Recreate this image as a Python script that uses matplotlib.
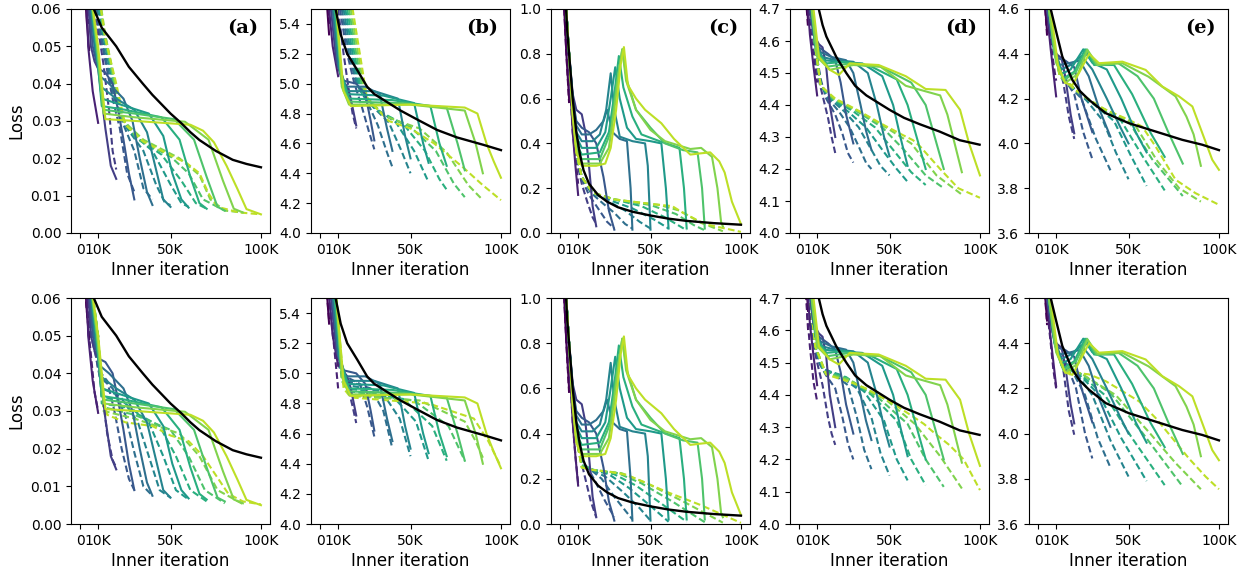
import numpy as np
import matplotlib
matplotlib.use("Agg")
import matplotlib.pyplot as plt

# ---------------- data (x in thousands of inner iterations) ----------------
T_K = [5, 10, 20, 30, 40, 50, 60, 70, 80, 90, 100]
X_TICKS = [0, 10, 50, 100]
X_TICKLABELS = ["0", "10K", "50K", "100K"]
PANEL_LABELS = ["(a)", "(b)", "(c)", "(d)", "(e)"]
Y_LIMS = [(0.0, 0.06), (4.0, 5.5), (0.0, 1.0), (4.0, 4.7), (3.6, 4.6)]
Y_TICKS = [[0.0, 0.01, 0.02, 0.03, 0.04, 0.05, 0.06],
           [4.0, 4.2, 4.4, 4.6, 4.8, 5.0, 5.2, 5.4],
           [0.0, 0.2, 0.4, 0.6, 0.8, 1.0],
           [4.0, 4.1, 4.2, 4.3, 4.4, 4.5, 4.6, 4.7],
           [3.6, 3.8, 4.0, 4.2, 4.4, 4.6]]
Y_FMT = ["{:.2f}", "{:.1f}", "{:.1f}", "{:.1f}", "{:.1f}"]

# ---- column (a) ----
A_BLACK = [(5.5, 0.065), (7.6, 0.06), (12, 0.055), (16, 0.0525), (20, 0.05), (27, 0.0445), (34.7, 0.04),
           (40, 0.037), (45, 0.0345), (50, 0.032), (56, 0.0294), (61, 0.027), (66, 0.0249), (75, 0.022),
           (84.4, 0.0196), (92, 0.0185), (100, 0.0176)]
A_SOLID = [
    [(2, 0.075), (3.5, 0.058), (5, 0.049)],
    [(3, 0.075), (4.5, 0.05), (7, 0.038), (10, 0.0295)],
    [(3, 0.075), (6, 0.05), (8, 0.046), (10, 0.044), (12, 0.036), (14, 0.028), (17, 0.018), (20, 0.0145)],
    [(3, 0.075), (7, 0.05), (10, 0.044), (14, 0.043), (18, 0.04), (21, 0.033), (24, 0.025), (27, 0.016), (30, 0.009)],
    [(3, 0.075), (8, 0.05), (11, 0.042), (16, 0.04), (24, 0.036), (29, 0.03), (33, 0.02), (37, 0.011), (40, 0.0075)],
    [(3, 0.075), (8.5, 0.05), (12, 0.039), (20, 0.036), (30, 0.033), (37, 0.027), (42, 0.017), (46, 0.009), (50, 0.007)],
    [(3, 0.075), (9, 0.05), (12, 0.036), (25, 0.034), (38, 0.032), (46, 0.026), (51, 0.016), (56, 0.009), (60, 0.0068)],
    [(3, 0.075), (9, 0.05), (12, 0.034), (25, 0.033), (45, 0.031), (55, 0.025), (61, 0.015), (66, 0.008), (70, 0.0065)],
    [(3, 0.075), (9.5, 0.05), (13, 0.033), (30, 0.032), (52, 0.0305), (63, 0.025), (70, 0.015), (76, 0.007), (80, 0.006)],
    [(3, 0.075), (9.5, 0.05), (13, 0.032), (30, 0.031), (58, 0.0298), (71, 0.025), (79, 0.014), (85, 0.0065), (90, 0.0055)],
    [(3, 0.075), (10, 0.05), (14, 0.0305), (31, 0.030), (61, 0.029), (68, 0.0274), (74, 0.0243), (81, 0.018),
     (87, 0.0118), (92, 0.0064), (100, 0.005)],
]
A_DASH_TOP = [
    [(3, 0.07), (4.5, 0.06), (5, 0.056)],
    [(4, 0.075), (7, 0.06), (10, 0.052)],
    [(5, 0.075), (9, 0.058), (13, 0.045), (16, 0.033), (18, 0.022), (20, 0.017)],
    [(5, 0.075), (10, 0.056), (14, 0.046), (18, 0.036), (22, 0.028), (26, 0.016), (30, 0.011)],
    [(5, 0.075), (11, 0.055), (15, 0.045), (19, 0.036), (24, 0.029), (30, 0.022), (35, 0.012), (40, 0.009)],
    [(6, 0.075), (12, 0.055), (16, 0.045), (20, 0.035), (26, 0.028), (35, 0.022), (42, 0.013), (47, 0.008), (50, 0.0075)],
    [(6, 0.075), (12, 0.055), (17, 0.044), (21, 0.033), (28, 0.027), (40, 0.022), (50, 0.013), (56, 0.008), (60, 0.007)],
    [(6, 0.075), (13, 0.055), (18, 0.043), (22, 0.032), (30, 0.026), (45, 0.021), (56, 0.014), (64, 0.008), (70, 0.0065)],
    [(7, 0.075), (13, 0.054), (18, 0.042), (23, 0.031), (32, 0.025), (50, 0.0205), (60, 0.016), (68, 0.009), (80, 0.006)],
    [(7, 0.075), (14, 0.053), (19, 0.041), (24, 0.030), (35, 0.025), (55, 0.020), (66, 0.0155), (72, 0.009),
     (80, 0.006), (90, 0.0055)],
    [(7, 0.075), (14, 0.052), (20, 0.04), (25, 0.029), (35, 0.0245), (48, 0.0213), (59, 0.0187), (66, 0.016),
     (71, 0.0106), (76, 0.007), (88, 0.0055), (100, 0.005)],
]
A_DASH_BOT = [
    [(2, 0.075), (3.5, 0.058), (5, 0.05)],
    [(3, 0.075), (5, 0.05), (8, 0.035), (10, 0.03)],
    [(3, 0.075), (6, 0.05), (9, 0.044), (12, 0.036), (15, 0.024), (18, 0.017), (20, 0.015)],
    [(3, 0.075), (7, 0.05), (10, 0.041), (15, 0.038), (19, 0.03), (23, 0.02), (27, 0.012), (30, 0.009)],
    [(3, 0.075), (8, 0.05), (11, 0.039), (18, 0.036), (25, 0.029), (30, 0.019), (35, 0.01), (40, 0.0075)],
    [(3, 0.075), (9, 0.05), (12, 0.036), (22, 0.034), (32, 0.027), (38, 0.018), (44, 0.009), (50, 0.007)],
    [(3, 0.075), (9, 0.05), (12, 0.034), (25, 0.032), (38, 0.027), (46, 0.018), (53, 0.009), (60, 0.0065)],
    [(3, 0.075), (10, 0.05), (12, 0.032), (25, 0.031), (44, 0.026), (53, 0.018), (61, 0.009), (70, 0.006)],
    [(3, 0.075), (10, 0.05), (13, 0.031), (30, 0.029), (50, 0.025), (60, 0.018), (69, 0.009), (80, 0.0055)],
    [(3, 0.075), (10, 0.05), (13, 0.03), (30, 0.028), (55, 0.024), (66, 0.018), (76, 0.009), (90, 0.0053)],
    [(3, 0.075), (9, 0.05), (12, 0.035), (15, 0.029), (25, 0.027), (40, 0.026), (50, 0.0235), (60, 0.022),
     (68, 0.018), (75, 0.013), (82, 0.008), (90, 0.006), (100, 0.0052)],
]

# ---- column (b) ----
B_BLACK = [(7, 5.7), (8.6, 5.5), (11.4, 5.33), (15, 5.2), (20.6, 5.09), (26, 4.98), (30, 4.93), (35.3, 4.89),
           (44.5, 4.82), (53.7, 4.76), (64.7, 4.69), (75.7, 4.64), (90.4, 4.59), (100, 4.555)]
B_SOLID = [
    [(3, 5.8), (4, 5.5), (5, 5.33)],
    [(3, 5.8), (5, 5.5), (7, 5.25), (10, 5.05)],
    [(3, 5.8), (6, 5.5), (9, 5.15), (12, 5.03), (15, 4.98), (17, 4.9), (20, 4.72)],
    [(3, 5.8), (7, 5.5), (10, 5.15), (13, 5.02), (20, 5.0), (25, 4.93), (28, 4.75), (30, 4.62)],
    [(3, 5.8), (7, 5.5), (10, 5.12), (14, 4.98), (25, 4.98), (33, 4.93), (37, 4.7), (40, 4.55)],
    [(3, 5.8), (8, 5.5), (11, 5.1), (15, 4.95), (30, 4.95), (43, 4.9), (47, 4.65), (50, 4.5)],
    [(3, 5.8), (8, 5.5), (11, 5.08), (15, 4.93), (35, 4.92), (52, 4.87), (57, 4.6), (60, 4.47)],
    [(3, 5.8), (8, 5.5), (12, 5.05), (16, 4.9), (40, 4.89), (61, 4.85), (66, 4.6), (70, 4.45)],
    [(3, 5.8), (9, 5.5), (12, 5.0), (16, 4.88), (45, 4.87), (70, 4.84), (76, 4.6), (80, 4.42)],
    [(3, 5.8), (9, 5.5), (12, 4.98), (16, 4.86), (50, 4.86), (80, 4.82), (86, 4.6), (90, 4.4)],
    [(3, 5.8), (9, 5.5), (13, 4.95), (17, 4.85), (50, 4.86), (80, 4.84), (87, 4.8), (92, 4.6), (96, 4.48), (100, 4.37)],
]
B_DASH_TOP = [
    [(3, 5.8), (4.5, 5.5), (5, 5.4)],
    [(4, 5.8), (7, 5.5), (10, 5.3)],
    [(5, 5.8), (10, 5.5), (13, 5.2), (16, 4.95), (18, 4.8), (20, 4.7)],
    [(6, 5.8), (11, 5.5), (15, 5.2), (19, 5.0), (23, 4.85), (27, 4.68), (30, 4.56)],
    [(7, 5.8), (12, 5.5), (16, 5.2), (20, 5.0), (26, 4.88), (32, 4.72), (37, 4.54), (40, 4.44)],
    [(7, 5.8), (13, 5.5), (17, 5.2), (21, 4.98), (28, 4.86), (38, 4.74), (45, 4.55), (50, 4.4)],
    [(8, 5.8), (14, 5.5), (18, 5.2), (22, 4.96), (30, 4.84), (42, 4.74), (52, 4.55), (60, 4.34)],
    [(8, 5.8), (15, 5.5), (19, 5.2), (23, 4.94), (32, 4.82), (46, 4.73), (58, 4.55), (66, 4.36), (70, 4.29)],
    [(9, 5.8), (16, 5.5), (20, 5.2), (24, 4.93), (34, 4.8), (50, 4.71), (64, 4.55), (74, 4.33), (80, 4.24)],
    [(9, 5.8), (17, 5.5), (21, 5.2), (25, 4.92), (36, 4.78), (55, 4.7), (70, 4.54), (82, 4.32), (90, 4.22)],
    [(10, 5.8), (18, 5.5), (22, 5.2), (26, 4.9), (38, 4.75), (50, 4.7), (63, 4.6), (79, 4.44), (90, 4.32), (100, 4.22)],
]
B_DASH_BOT = [
    [(3, 5.8), (4, 5.5), (5, 5.35)],
    [(3, 5.8), (5, 5.5), (8, 5.15), (10, 4.9)],
    [(3, 5.8), (6, 5.5), (9, 5.1), (12, 5.0), (15, 4.93), (18, 4.78), (20, 4.67)],
    [(3, 5.8), (7, 5.5), (10, 5.1), (14, 4.98), (22, 4.93), (26, 4.78), (30, 4.58)],
    [(3, 5.8), (7, 5.5), (11, 5.05), (15, 4.95), (28, 4.9), (35, 4.75), (40, 4.5)],
    [(3, 5.8), (8, 5.5), (11, 5.02), (16, 4.92), (34, 4.88), (44, 4.7), (50, 4.45)],
    [(3, 5.8), (8, 5.5), (12, 5.0), (16, 4.9), (40, 4.85), (53, 4.68), (60, 4.42)],
    [(3, 5.8), (8, 5.5), (12, 4.98), (17, 4.88), (46, 4.83), (62, 4.65), (70, 4.42)],
    [(3, 5.8), (9, 5.5), (12, 4.95), (17, 4.86), (52, 4.82), (71, 4.65), (80, 4.42)],
    [(3, 5.8), (9, 5.5), (13, 4.93), (17, 4.85), (55, 4.82), (80, 4.68), (86, 4.55), (90, 4.44)],
    [(3, 5.8), (9, 5.5), (13, 4.9), (17, 4.84), (60, 4.8), (85, 4.7), (93, 4.55), (100, 4.38)],
]

# ---- column (c) ----
C_BLACK = [(3, 1.05), (4, 0.9), (6, 0.7), (7, 0.6), (9, 0.45), (11, 0.35), (13, 0.28), (16, 0.22), (21, 0.17),
           (26, 0.14), (32, 0.115), (40, 0.095), (50, 0.078), (60, 0.064), (70, 0.054), (85, 0.044), (100, 0.037)]
C_SOLID = [
    [(2, 1.05), (3.5, 0.8), (5, 0.6)],
    [(3, 1.05), (5, 0.75), (7, 0.45), (8.5, 0.3), (10, 0.17)],
    [(3, 1.05), (5, 0.8), (7, 0.62), (9, 0.55), (12, 0.53), (14, 0.45), (16, 0.3), (18, 0.12), (20, 0.03)],
    [(3, 1.05), (5, 0.8), (7, 0.6), (9, 0.5), (12, 0.47), (16, 0.45), (20, 0.4), (24, 0.25), (27, 0.1), (30, 0.015)],
    [(3, 1.05), (5, 0.8), (7, 0.6), (9, 0.48), (12, 0.44), (16, 0.44), (20, 0.46), (24, 0.5), (26, 0.55),
     (29, 0.45), (33, 0.42), (37, 0.41), (39, 0.2), (40, 0.015)],
    [(3, 1.05), (5, 0.8), (7, 0.6), (9, 0.45), (12, 0.41), (18, 0.41), (22, 0.44), (25.5, 0.55), (28, 0.713),
     (30, 0.55), (33, 0.43), (40, 0.41), (47, 0.40), (48.5, 0.3), (50, 0.015)],
    [(3, 1.05), (5, 0.8), (7, 0.58), (9, 0.43), (12, 0.38), (20, 0.38), (25, 0.45), (28, 0.6), (30.5, 0.74),
     (33, 0.6), (37, 0.47), (42, 0.42), (50, 0.41), (56, 0.4), (58.5, 0.2), (60, 0.02)],
    [(3, 1.05), (5, 0.8), (7, 0.56), (9, 0.4), (12, 0.35), (22, 0.36), (27, 0.45), (30, 0.62), (32.5, 0.79),
     (35, 0.65), (40, 0.52), (45, 0.44), (55, 0.41), (66, 0.38), (68.5, 0.2), (70, 0.02)],
    [(3, 1.05), (5, 0.8), (7, 0.55), (9, 0.38), (12, 0.33), (22, 0.33), (28, 0.45), (31, 0.65), (34.4, 0.82),
     (37, 0.68), (42, 0.55), (50, 0.47), (58, 0.4), (68, 0.37), (76, 0.36), (78.5, 0.2), (80, 0.02)],
    [(3, 1.05), (5, 0.8), (7, 0.53), (9, 0.37), (12, 0.31), (22, 0.31), (27, 0.38), (30, 0.55), (32.5, 0.72),
     (34.4, 0.82), (36.5, 0.68), (42, 0.55), (50, 0.46), (58, 0.41), (66, 0.39), (72, 0.375), (78, 0.38),
     (84, 0.34), (87, 0.2), (89, 0.05), (90, 0.03)],
    [(3, 1.05), (5, 0.8), (7, 0.52), (9, 0.36), (12, 0.3), (20, 0.3), (25, 0.31), (28, 0.38), (31, 0.55),
     (33.5, 0.75), (35.3, 0.83), (37.5, 0.66), (42, 0.6), (47, 0.55), (56, 0.49), (63, 0.42), (72, 0.35),
     (77, 0.355), (83, 0.36), (88, 0.32), (91, 0.27), (95, 0.14), (100, 0.04)],
]
C_DASH_TOP = [
    [(2, 1.05), (3.5, 0.8), (5, 0.58)],
    [(3, 1.05), (5, 0.75), (7, 0.45), (9, 0.3), (10, 0.22)],
    [(3, 1.05), (5, 0.78), (7, 0.5), (9, 0.33), (12, 0.22), (15, 0.14), (18, 0.07), (20, 0.04)],
    [(3, 1.05), (5, 0.8), (7, 0.52), (9, 0.35), (12, 0.24), (16, 0.17), (21, 0.11), (26, 0.05), (30, 0.02)],
    [(3, 1.05), (5, 0.8), (7, 0.52), (9, 0.36), (12, 0.25), (17, 0.18), (24, 0.13), (30, 0.09), (36, 0.04), (40, 0.02)],
    [(3, 1.05), (5, 0.8), (7, 0.52), (9, 0.36), (12, 0.25), (18, 0.18), (27, 0.14), (36, 0.1), (44, 0.05), (50, 0.02)],
    [(3, 1.05), (5, 0.8), (7, 0.52), (9, 0.36), (12, 0.25), (18, 0.18), (28, 0.145), (40, 0.11), (52, 0.06), (60, 0.02)],
    [(3, 1.05), (5, 0.8), (7, 0.52), (9, 0.36), (12, 0.25), (18, 0.18), (30, 0.15), (45, 0.12), (58, 0.07), (70, 0.012)],
    [(3, 1.05), (5, 0.8), (7, 0.52), (9, 0.36), (12, 0.25), (18, 0.18), (30, 0.15), (50, 0.125), (64, 0.085),
     (74, 0.035), (80, 0.012)],
    [(3, 1.05), (5, 0.8), (7, 0.52), (9, 0.36), (12, 0.25), (18, 0.18), (30, 0.15), (55, 0.125), (66, 0.1),
     (78, 0.045), (90, 0.008)],
    [(3, 1.05), (5, 0.8), (7, 0.52), (9, 0.36), (12, 0.25), (18, 0.18), (30, 0.15), (50, 0.13), (62, 0.12),
     (68, 0.09), (80, 0.04), (100, 0.005)],
]
C_DASH_BOT = [
    [(2, 1.05), (3.5, 0.8), (5, 0.58)],
    [(3, 1.05), (5, 0.75), (7, 0.45), (8.5, 0.3), (10, 0.18)],
    [(3, 1.05), (5, 0.8), (7, 0.55), (9, 0.38), (11, 0.3), (14, 0.2), (17, 0.1), (20, 0.03)],
    [(3, 1.05), (5, 0.8), (7, 0.55), (9, 0.38), (12, 0.28), (16, 0.24), (20, 0.18), (25, 0.1), (30, 0.03)],
    [(3, 1.05), (5, 0.8), (7, 0.55), (9, 0.38), (12, 0.27), (17, 0.24), (23, 0.2), (30, 0.12), (36, 0.06), (40, 0.02)],
    [(3, 1.05), (5, 0.8), (7, 0.55), (9, 0.38), (12, 0.27), (17, 0.24), (25, 0.21), (35, 0.14), (44, 0.07), (50, 0.015)],
    [(3, 1.05), (5, 0.8), (7, 0.55), (9, 0.38), (12, 0.26), (18, 0.24), (27, 0.22), (38, 0.16), (50, 0.08), (60, 0.01)],
    [(3, 1.05), (5, 0.8), (7, 0.55), (9, 0.38), (12, 0.26), (18, 0.24), (30, 0.22), (42, 0.17), (56, 0.09), (70, 0.01)],
    [(3, 1.05), (5, 0.8), (7, 0.55), (9, 0.38), (12, 0.26), (18, 0.24), (32, 0.225), (45, 0.18), (62, 0.1), (80, 0.008)],
    [(3, 1.05), (5, 0.8), (7, 0.55), (9, 0.38), (12, 0.25), (18, 0.24), (34, 0.225), (48, 0.18), (68, 0.1), (90, 0.006)],
    [(3, 1.05), (5, 0.8), (7, 0.55), (9, 0.38), (12, 0.25), (17, 0.24), (28, 0.23), (37, 0.217), (46, 0.187),
     (59, 0.142), (78, 0.083), (100, 0.005)],
]

# ---- column (d) ----
D_BLACK = [(9, 4.8), (10.9, 4.7), (13, 4.65), (15.1, 4.614), (20.6, 4.55), (26.1, 4.5), (31, 4.46), (37.2, 4.43),
           (50, 4.385), (58, 4.36), (66.7, 4.34), (77.7, 4.317), (88.8, 4.29), (99.8, 4.276)]
D_SOLID = [
    [(3, 4.9), (4, 4.75), (5, 4.66)],
    [(3, 4.9), (5, 4.7), (6, 4.62), (8, 4.52), (10, 4.43)],
    [(3, 4.9), (5, 4.75), (8, 4.62), (11, 4.59), (13, 4.58), (15, 4.52), (17, 4.4), (20, 4.3)],
    [(3, 4.9), (5, 4.75), (8, 4.62), (11, 4.58), (16, 4.56), (20, 4.54), (23, 4.47), (26, 4.37), (30, 4.28)],
    [(3, 4.9), (6, 4.75), (9, 4.6), (12, 4.565), (18, 4.55), (26, 4.54), (30, 4.5), (34, 4.4), (37, 4.32), (40, 4.26)],
    [(3, 4.9), (6, 4.75), (9, 4.59), (13, 4.55), (20, 4.54), (30, 4.535), (38, 4.5), (43, 4.4), (47, 4.3), (50, 4.24)],
    [(3, 4.9), (6, 4.75), (9, 4.58), (14, 4.54), (22, 4.535), (35, 4.53), (46, 4.49), (52, 4.4), (56, 4.3), (60, 4.21)],
    [(3, 4.9), (6, 4.75), (10, 4.57), (15, 4.53), (25, 4.535), (40, 4.52), (54, 4.48), (60, 4.4), (65, 4.3), (70, 4.2)],
    [(3, 4.9), (6, 4.75), (10, 4.56), (16, 4.52), (28, 4.53), (45, 4.52), (62, 4.47), (70, 4.4), (75, 4.3), (80, 4.2)],
    [(3, 4.9), (6, 4.75), (10, 4.55), (17, 4.51), (30, 4.525), (45, 4.52), (59, 4.46), (78, 4.43), (82, 4.37),
     (86, 4.28), (90, 4.19)],
    [(3, 4.9), (7, 4.75), (11, 4.55), (17, 4.51), (22, 4.494), (28, 4.53), (44, 4.525), (59, 4.49), (70, 4.45),
     (81, 4.447), (89, 4.385), (94, 4.28), (100, 4.18)],
]
D_DASH_TOP = [
    [(3, 4.9), (4, 4.72), (5, 4.64)],
    [(3, 4.9), (5, 4.72), (7, 4.6), (9, 4.52), (10, 4.47)],
    [(3, 4.9), (5, 4.75), (8, 4.6), (10, 4.5), (13, 4.43), (16, 4.36), (18, 4.3), (20, 4.25)],
    [(3, 4.9), (6, 4.75), (9, 4.58), (12, 4.48), (15, 4.42), (20, 4.37), (24, 4.31), (27, 4.25), (30, 4.22)],
    [(3, 4.9), (6, 4.75), (9, 4.58), (12, 4.47), (16, 4.42), (22, 4.38), (28, 4.33), (33, 4.27), (37, 4.22), (40, 4.2)],
    [(3, 4.9), (6, 4.75), (9, 4.58), (12, 4.46), (17, 4.42), (25, 4.38), (33, 4.33), (40, 4.26), (45, 4.21), (50, 4.18)],
    [(3, 4.9), (6, 4.75), (9, 4.58), (12, 4.46), (18, 4.42), (27, 4.38), (37, 4.33), (46, 4.26), (54, 4.2), (60, 4.16)],
    [(3, 4.9), (6, 4.75), (9, 4.58), (12, 4.46), (18, 4.42), (30, 4.38), (42, 4.33), (52, 4.26), (62, 4.19), (70, 4.15)],
    [(3, 4.9), (6, 4.75), (9, 4.58), (12, 4.46), (19, 4.42), (32, 4.38), (46, 4.33), (58, 4.26), (70, 4.18), (80, 4.14)],
    [(3, 4.9), (6, 4.75), (9, 4.58), (12, 4.46), (19, 4.42), (33, 4.38), (48, 4.33), (62, 4.28), (76, 4.18), (90, 4.12)],
    [(3, 4.9), (6, 4.75), (9, 4.58), (12, 4.46), (20, 4.42), (32, 4.385), (45, 4.343), (56, 4.31), (63, 4.29),
     (67, 4.27), (78, 4.2), (88, 4.14), (100, 4.11)],
]
D_DASH_BOT = [
    [(3, 4.9), (4, 4.7), (5, 4.6)],
    [(3, 4.9), (4.5, 4.65), (6, 4.55), (8, 4.44), (10, 4.38)],
    [(3, 4.9), (5, 4.7), (7, 4.58), (10, 4.5), (13, 4.43), (16, 4.33), (18, 4.28), (20, 4.245)],
    [(3, 4.9), (5, 4.7), (8, 4.56), (11, 4.5), (15, 4.46), (20, 4.42), (24, 4.33), (27, 4.25), (30, 4.2)],
    [(3, 4.9), (6, 4.7), (9, 4.55), (12, 4.49), (20, 4.46), (27, 4.43), (32, 4.33), (36, 4.23), (40, 4.17)],
    [(3, 4.9), (6, 4.7), (9, 4.55), (13, 4.48), (22, 4.46), (32, 4.42), (40, 4.33), (45, 4.22), (50, 4.15)],
    [(3, 4.9), (6, 4.7), (9, 4.55), (13, 4.48), (24, 4.46), (36, 4.41), (47, 4.32), (54, 4.2), (60, 4.135)],
    [(3, 4.9), (6, 4.7), (9, 4.55), (14, 4.475), (26, 4.455), (40, 4.4), (54, 4.32), (62, 4.2), (70, 4.12)],
    [(3, 4.9), (6, 4.7), (9, 4.55), (14, 4.47), (27, 4.45), (44, 4.39), (60, 4.31), (70, 4.2), (80, 4.115)],
    [(3, 4.9), (6, 4.7), (9, 4.55), (15, 4.465), (28, 4.445), (48, 4.385), (64, 4.31), (78, 4.21), (90, 4.11)],
    [(3, 4.9), (6, 4.7), (9, 4.55), (15, 4.463), (28, 4.44), (37, 4.42), (50, 4.38), (61, 4.34), (69, 4.31),
     (76, 4.276), (83, 4.245), (91, 4.2), (100, 4.105)],
]

# ---- column (e) ----
E_BLACK = [(6, 4.7), (7, 4.6), (9.8, 4.506), (13.4, 4.388), (19, 4.283), (23, 4.235), (28.2, 4.194), (37.4, 4.135),
           (50.3, 4.09), (65, 4.053), (79.7, 4.016), (90.8, 3.994), (100, 3.97)]
E_SOLID = [
    [(3, 4.8), (4, 4.6), (5, 4.5)],
    [(3, 4.8), (5, 4.58), (7, 4.42), (9, 4.28), (10, 4.21)],
    [(3, 4.8), (5, 4.6), (8, 4.45), (10, 4.4), (13, 4.38), (15, 4.3), (18, 4.13), (20, 4.045)],
    [(3, 4.8), (5, 4.6), (8, 4.45), (11, 4.38), (15, 4.37), (20, 4.34), (24, 4.2), (28, 4.1), (30, 4.05)],
    [(3, 4.8), (6, 4.6), (9, 4.42), (12, 4.35), (18, 4.36), (23, 4.37), (28, 4.3), (34, 4.15), (40, 4.03)],
    [(3, 4.8), (6, 4.6), (9, 4.41), (13, 4.33), (18, 4.35), (24, 4.39), (30, 4.33), (38, 4.2), (45, 4.08), (50, 4.0)],
    [(3, 4.8), (6, 4.6), (9, 4.4), (13, 4.31), (18, 4.33), (25, 4.42), (30, 4.36), (38, 4.33), (46, 4.2),
     (54, 4.05), (60, 3.96)],
    [(3, 4.8), (6, 4.6), (10, 4.38), (14, 4.29), (20, 4.32), (26, 4.42), (31, 4.35), (42, 4.35), (52, 4.22),
     (62, 4.05), (70, 3.94)],
    [(3, 4.8), (6, 4.6), (10, 4.37), (14, 4.28), (21, 4.32), (27, 4.42), (32, 4.35), (44, 4.36), (55, 4.3),
     (64, 4.2), (72, 4.05), (80, 3.91)],
    [(3, 4.8), (6, 4.6), (10, 4.36), (15, 4.27), (22, 4.31), (27.3, 4.417), (33, 4.35), (46.6, 4.358), (61, 4.298),
     (76, 4.21), (82, 4.12), (86, 4.04), (90, 3.9)],
    [(3, 4.8), (7, 4.6), (11, 4.35), (15, 4.27), (19, 4.26), (23, 4.32), (28.2, 4.4), (33.7, 4.358), (46.6, 4.365),
     (59.5, 4.328), (68.7, 4.254), (77.9, 4.21), (85.3, 4.165), (90.8, 4.046), (96.3, 3.927), (100, 3.882)],
]
E_DASH_TOP = [
    [(3, 4.8), (4, 4.6), (5, 4.48)],
    [(3, 4.8), (5, 4.6), (7, 4.45), (9, 4.33), (10, 4.28)],
    [(3, 4.8), (5, 4.6), (8, 4.45), (11, 4.36), (14, 4.27), (17, 4.12), (20, 4.02)],
    [(3, 4.8), (6, 4.6), (9, 4.42), (12, 4.33), (16, 4.27), (20, 4.22), (25, 4.05), (30, 3.93)],
    [(3, 4.8), (6, 4.6), (9, 4.42), (12, 4.32), (17, 4.26), (24, 4.2), (32, 4.02), (40, 3.88)],
    [(3, 4.8), (6, 4.6), (9, 4.42), (12, 4.32), (18, 4.26), (27, 4.19), (36, 4.1), (43, 3.96), (50, 3.84)],
    [(3, 4.8), (6, 4.6), (9, 4.42), (12, 4.31), (19, 4.25), (30, 4.18), (42, 4.1), (51, 3.95), (60, 3.81)],
    [(3, 4.8), (6, 4.6), (9, 4.42), (12, 4.31), (19, 4.25), (32, 4.17), (46, 4.1), (58, 3.94), (70, 3.79)],
    [(3, 4.8), (6, 4.6), (9, 4.42), (12, 4.3), (20, 4.245), (34, 4.16), (50, 4.1), (63, 3.93), (80, 3.765)],
    [(3, 4.8), (6, 4.6), (9, 4.42), (12, 4.3), (20, 4.24), (35, 4.16), (53, 4.09), (66, 3.92), (78, 3.8), (90, 3.74)],
    [(3, 4.8), (6, 4.6), (9, 4.42), (12, 4.3), (20.8, 4.24), (28.2, 4.194), (37.4, 4.15), (50.3, 4.105),
     (57.6, 4.075), (65, 3.986), (76, 3.838), (87, 3.778), (100, 3.726)],
]
E_DASH_BOT = [
    [(3, 4.8), (4, 4.6), (5, 4.48)],
    [(3, 4.8), (5, 4.55), (7, 4.4), (8.5, 4.28), (10, 4.2)],
    [(3, 4.8), (5, 4.6), (8, 4.45), (11, 4.37), (14, 4.28), (17, 4.1), (20, 3.995)],
    [(3, 4.8), (6, 4.6), (9, 4.42), (12, 4.35), (16, 4.3), (21, 4.2), (26, 4.0), (30, 3.89)],
    [(3, 4.8), (6, 4.6), (9, 4.42), (12, 4.34), (18, 4.29), (26, 4.17), (33, 3.98), (40, 3.85)],
    [(3, 4.8), (6, 4.6), (9, 4.41), (13, 4.32), (20, 4.28), (30, 4.17), (40, 3.97), (50, 3.81)],
    [(3, 4.8), (6, 4.6), (9, 4.41), (13, 4.31), (21, 4.275), (34, 4.17), (46, 3.98), (60, 3.79)],
    [(3, 4.8), (6, 4.6), (9, 4.41), (13, 4.3), (22, 4.27), (37, 4.17), (52, 3.98), (70, 3.772)],
    [(3, 4.8), (6, 4.6), (9, 4.41), (14, 4.29), (23, 4.268), (40, 4.18), (58, 4.0), (80, 3.765)],
    [(3, 4.8), (6, 4.6), (9, 4.41), (14, 4.28), (24, 4.265), (43, 4.17), (62, 4.0), (76, 3.87), (90, 3.754)],
    [(3, 4.8), (6, 4.6), (9, 4.41), (15, 4.275), (28.2, 4.262), (37.4, 4.232), (46.6, 4.188), (55.8, 4.143),
     (65, 4.069), (74.2, 3.98), (83.4, 3.89), (92.6, 3.81), (100, 3.754)],
]

COLUMNS = [
    (A_SOLID, A_DASH_TOP, A_DASH_BOT, A_BLACK),
    (B_SOLID, B_DASH_TOP, B_DASH_BOT, B_BLACK),
    (C_SOLID, C_DASH_TOP, C_DASH_BOT, C_BLACK),
    (D_SOLID, D_DASH_TOP, D_DASH_BOT, D_BLACK),
    (E_SOLID, E_DASH_TOP, E_DASH_BOT, E_BLACK),
]

# ---------------- drawing ----------------
W, H = 1247, 571
fig = plt.figure(figsize=(W / 100, H / 100), dpi=100)
colors = plt.get_cmap("viridis")(np.linspace(0.0, 0.9, len(T_K)))

lefts_px = [71, 311, 551, 790, 1029]
width_px = 199
rows_px = [(9, 233), (298, 524)]


def xy(points):
    pts = np.array(points, dtype=float)
    return pts[:, 0], pts[:, 1]


for r, (top_px, bot_px) in enumerate(rows_px):
    for c, left_px in enumerate(lefts_px):
        ax = fig.add_axes([left_px / W, 1 - bot_px / H, width_px / W, (bot_px - top_px) / H])
        solid, dash_top, dash_bot, black = COLUMNS[c]
        dashed = dash_top if r == 0 else dash_bot
        for i in range(len(T_K)):
            x, y = xy(dashed[i])
            ax.plot(x, y, color=colors[i], lw=1.5, dashes=(3.2, 1.6), solid_joinstyle="round",
                    dash_joinstyle="round")
        for i in range(len(T_K)):
            x, y = xy(solid[i])
            ax.plot(x, y, color=colors[i], lw=1.5, solid_joinstyle="round")
        x, y = xy(black)
        ax.plot(x, y, color="black", lw=1.7, zorder=5, solid_joinstyle="round")

        ax.set_xlim(-5, 105)
        ax.set_ylim(*Y_LIMS[c])
        ax.set_xticks(X_TICKS)
        ax.set_xticklabels(X_TICKLABELS)
        ax.set_yticks(Y_TICKS[c])
        ax.set_yticklabels([Y_FMT[c].format(v) for v in Y_TICKS[c]])
        ax.tick_params(labelsize=10)
        ax.set_xlabel("Inner iteration", fontsize=12, labelpad=3)
        if c == 0:
            ax.set_ylabel("Loss", fontsize=12)
        if r == 0:
            ax.text(0.94, 0.955, PANEL_LABELS[c], transform=ax.transAxes, ha="right", va="top",
                    fontsize=14, fontweight="bold", family="DejaVu Serif", zorder=10)

fig.savefig("out.png", dpi=100)
